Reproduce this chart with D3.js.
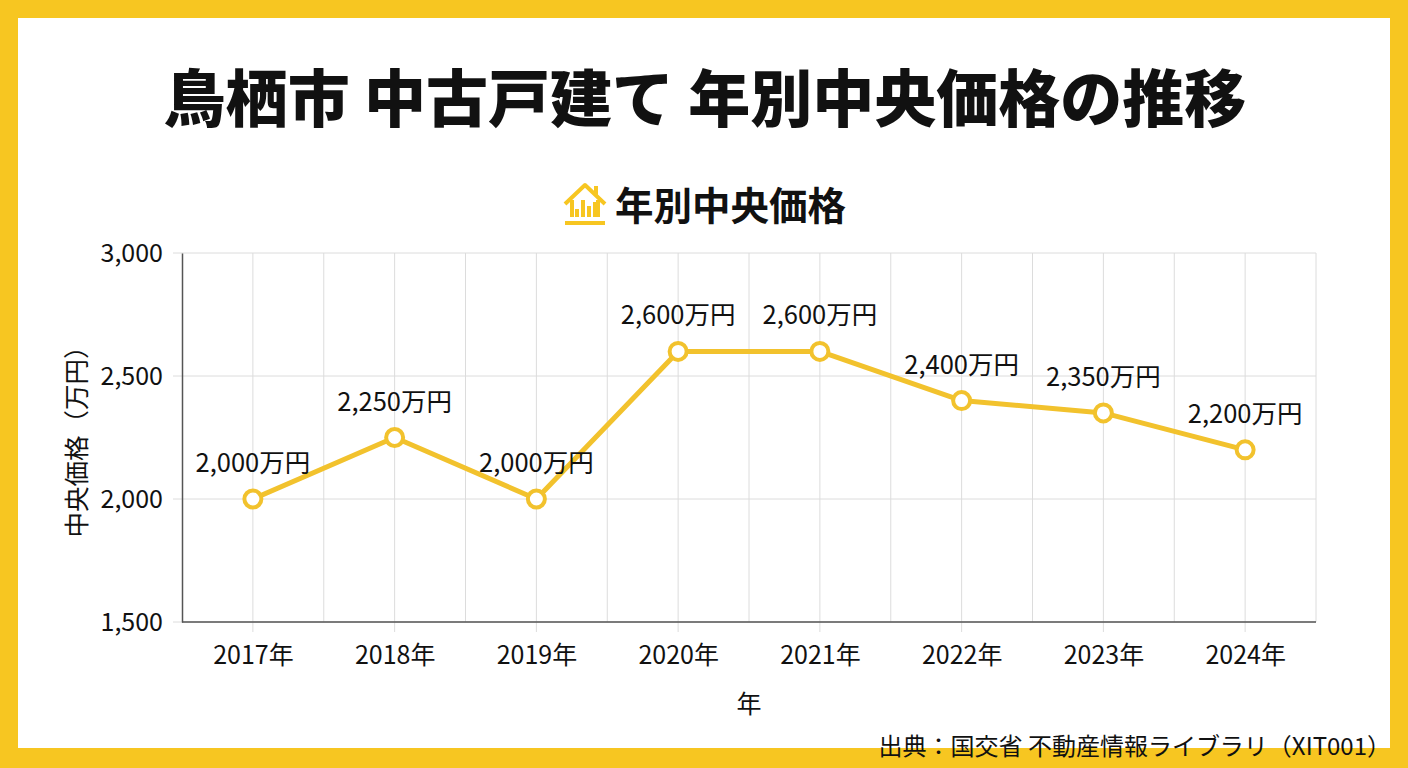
<!DOCTYPE html>
<html>
<head>
<meta charset="utf-8">
<script src="https://cdn.jsdelivr.net/npm/d3@7"></script>
<style>
  html, body { margin: 0; padding: 0; background: #f7c621; }
  svg { display: block; font-family: "Noto Sans CJK JP", "Noto Sans", sans-serif; }
</style>
</head>
<body>
<svg id="chart" width="1408" height="768"></svg>
<script>
const years = ["2017年", "2018年", "2019年", "2020年", "2021年", "2022年", "2023年", "2024年"]
const prices = [2000, 2250, 2000, 2600, 2600, 2400, 2350, 2200]
const yTicks = [1500, 2000, 2500, 3000]

const YELLOW = "#f7c621"
const LINE = "#f2c22d"

const svg = d3.select("#chart")
const W = 1408, H = 768
const margin = { left: 182, right: 92, top: 253, bottom: 146 }

// frame
svg.append("rect").attr("width", W).attr("height", H).attr("fill", YELLOW)
svg.append("rect")
  .attr("x", 18).attr("y", 18)
  .attr("width", 1372).attr("height", 730)
  .attr("fill", "#fff")

svg.append("text")
  .attr("x", W / 2 + 1).attr("y", 122)
  .attr("text-anchor", "middle")
  .attr("font-size", 62).attr("font-weight", 900)
  .attr("fill", "#111")
  .text("鳥栖市 中古戸建て 年別中央価格の推移")

// subtitle with house icon
let sub = svg.append("g").attr("transform", "translate(563,182)")
sub.append("path")
  .attr("d", "M2,22 L22,3 L42,22 M33,14 V4 M9,18 V35 M35,18 V35")
  .attr("fill", "none").attr("stroke", YELLOW)
  .attr("stroke-width", 4).attr("stroke-linejoin", "round")
sub.append("rect").attr("x", 2).attr("y", 39).attr("width", 40).attr("height", 4).attr("fill", YELLOW)
;[[12, 27, 8], [18, 18, 17], [24, 24, 11], [30, 20, 15]].forEach(b => {
  sub.append("rect").attr("x", b[0]).attr("y", b[1]).attr("width", 4).attr("height", b[2]).attr("fill", YELLOW)
})
svg.append("text")
  .attr("x", 615).attr("y", 220)
  .attr("font-size", 38.5).attr("font-weight", 700)
  .attr("fill", "#111")
  .text("年別中央価格")

const x = d3.scalePoint()
  .domain(years)
  .range([margin.left, W - margin.right])
  .padding(0.5)

const y = d3.scaleLinear()
  .domain([1500, 3000])
  .range([H - margin.bottom, margin.top])

const step = x.step()
const x0 = margin.left, x1 = W - margin.right
const y0 = H - margin.bottom, y1 = margin.top

// grid
let grid = svg.append("g").attr("stroke", "#dcdcdc").attr("stroke-width", 1)
years.forEach(d => {
  grid.append("line").attr("x1", x(d)).attr("x2", x(d)).attr("y1", y1).attr("y2", y0 + 10)
  grid.append("line").attr("x1", x(d) + step / 2).attr("x2", x(d) + step / 2).attr("y1", y1).attr("y2", y0)
})
yTicks.forEach(v => {
  grid.append("line").attr("x1", x0 - 9).attr("x2", x1).attr("y1", y(v)).attr("y2", y(v))
})

// axes
svg.append("g")
  .attr("transform", `translate(${x0},0)`)
  .call(d3.axisLeft(y).tickValues(yTicks).tickFormat(d3.format(",")).tickSize(0).tickPadding(19))
  .call(g => g.select(".domain").attr("stroke", "#555").attr("stroke-width", 1.5))
  .call(g => g.selectAll("text").attr("font-size", 25).attr("fill", "#111").attr("font-family", "'Noto Sans CJK JP'"))

svg.append("g")
  .attr("transform", `translate(0,${y0})`)
  .call(d3.axisBottom(x).tickSize(0).tickPadding(24))
  .call(g => g.select(".domain").attr("stroke", "#555").attr("stroke-width", 1.5).attr("d", `M${x0},0H${x1}`))
  .call(g => g.selectAll("text").attr("font-size", 25).attr("fill", "#111").attr("font-family", "'Noto Sans CJK JP'"))

svg.append("text")
  .attr("transform", `translate(86,${(y0 + y1) / 2 - 2}) rotate(-90)`)
  .attr("text-anchor", "middle")
  .attr("font-size", 25.5).attr("fill", "#111")
  .text("中央価格（万円）")

svg.append("text")
  .attr("x", (x0 + x1) / 2).attr("y", 713)
  .attr("text-anchor", "middle")
  .attr("font-size", 25).attr("fill", "#111")
  .text("年")

// series
const line = d3.line().x((d, i) => x(years[i])).y(d => y(d))
svg.append("path")
  .datum(prices)
  .attr("d", line)
  .attr("fill", "none").attr("stroke", LINE)
  .attr("stroke-width", 5).attr("stroke-linejoin", "round")

svg.selectAll(".pt")
  .data(prices)
  .join("circle")
  .attr("class", "pt")
  .attr("cx", (d, i) => x(years[i]))
  .attr("cy", d => y(d))
  .attr("r", 8.5)
  .attr("fill", "#fff").attr("stroke", LINE).attr("stroke-width", 4)

svg.selectAll(".lbl")
  .data(prices)
  .join("text")
  .attr("class", "lbl")
  .attr("x", (d, i) => x(years[i]))
  .attr("y", d => y(d) - 27)
  .attr("text-anchor", "middle")
  .attr("font-size", 25.5).attr("fill", "#111")
  .text(d => d3.format(",")(d) + "万円")

svg.append("text")
  .attr("x", 1391).attr("y", 755)
  .attr("text-anchor", "end")
  .attr("font-size", 24).attr("fill", "#111")
  .text("出典：国交省 不動産情報ライブラリ（XIT001）")
</script>
</body>
</html>
